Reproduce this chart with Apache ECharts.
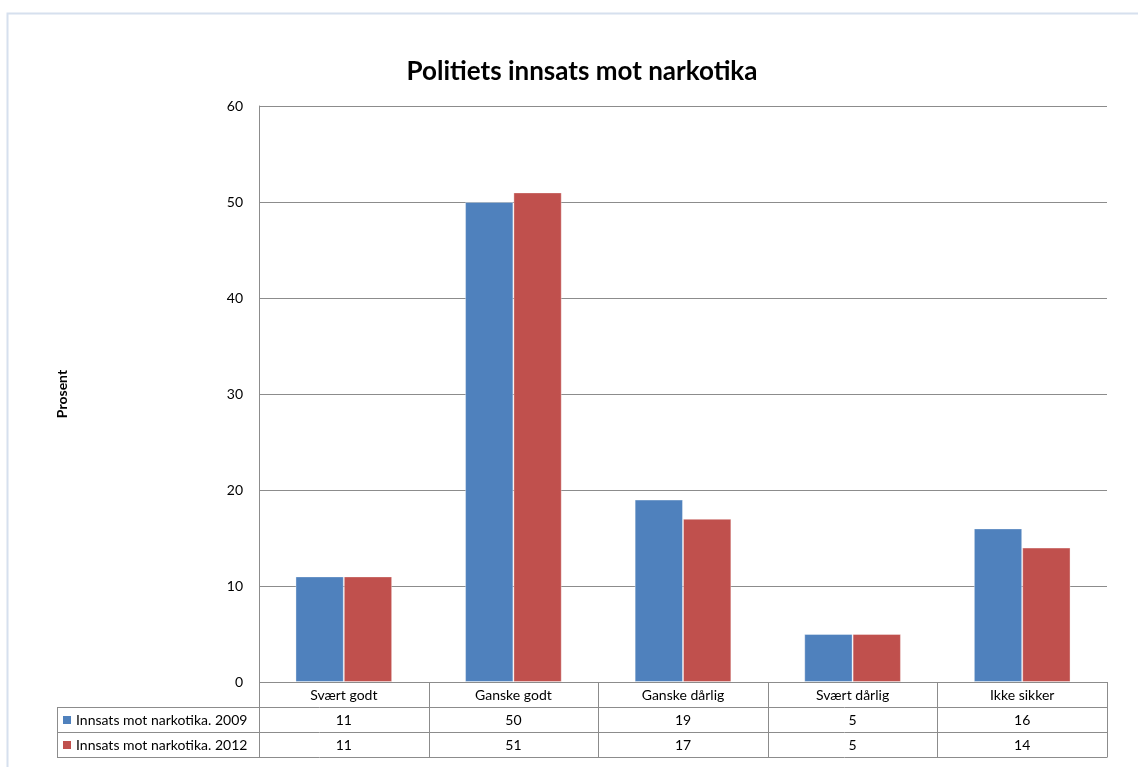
<!DOCTYPE html>
<html><head><meta charset="utf-8">
<script src="https://cdn.jsdelivr.net/npm/echarts@6/dist/echarts.min.js"></script>
<style>html,body{margin:0;padding:0;background:#fff}#c{width:1138px;height:767px}</style>
</head><body><div id="c"></div>
<script>
const categories = ['Svært godt', 'Ganske godt', 'Ganske dårlig', 'Svært dårlig', 'Ikke sikker'];
const seriesNames = ['Innsats mot narkotika. 2009', 'Innsats mot narkotika. 2012'];
const values2009 = [11, 50, 19, 5, 16];
const values2012 = [11, 51, 17, 5, 14];
const seriesColors = ['#4F81BD', '#C0504D'];
const titleText = 'Politiets innsats mot narkotika';
const yAxisName = 'Prosent';

const FONT = 'Lato, "Open Sans", sans-serif';
const GRID = { left: 259, top: 106, right: 31, bottom: 85 };
const ROW_H = 25;
const TABLE_LEFT = 57;
const LINE = '#8c8c8c';

const chart = echarts.init(document.getElementById('c'), null, { renderer: 'canvas' });
const allValues = [values2009, values2012];

chart.setOption({
  animation: false,
  backgroundColor: '#fff',
  title: {
    text: titleText, left: 577, textAlign: 'center', top: 54,
    textStyle: { fontFamily: FONT, fontWeight: 'bold', fontSize: 26, color: '#000' }
  },
  grid: GRID,
  xAxis: {
    type: 'category', data: categories,
    axisLine: { show: false }, axisTick: { show: false }, axisLabel: { show: false }
  },
  yAxis: {
    type: 'value', min: 0, max: 60, interval: 10,
    name: yAxisName, nameLocation: 'middle', nameGap: 190, nameRotate: 90,
    nameTextStyle: { fontFamily: FONT, fontWeight: 'bold', fontSize: 14, color: '#000' },
    axisLine: { show: true, lineStyle: { color: LINE, width: 1 } },
    axisTick: { show: false },
    axisLabel: { fontFamily: FONT, fontSize: 14, color: '#000', margin: 16 },
    splitLine: { lineStyle: { color: LINE, width: 1 } }
  },
  series: allValues.map((vals, i) => ({
    name: seriesNames[i], type: 'bar', data: vals,
    barGap: '0%', barCategoryGap: '43%',
    itemStyle: { color: seriesColors[i], borderColor: 'rgba(255,255,255,0.35)', borderWidth: 1 }
  }))
});

function buildTable() {
  const g = [];
  const yZero = chart.convertToPixel({ gridIndex: 0 }, [0, 0])[1];
  const left = GRID.left;
  const right = 1138 - GRID.right;
  const step = (right - left) / categories.length;
  g.push({ type: 'rect', shape: { x: 7.5, y: 13.5, width: 1200, height: 900 },
    style: { fill: 'none', stroke: '#D6E0EE', lineWidth: 2 }, silent: true, z: 0 });
  const line = (x1, y1, x2, y2) => g.push({ type: 'line', silent: true, z: 10,
    shape: { x1, y1, x2, y2 }, style: { stroke: LINE, lineWidth: 1 } });
  line(left, yZero + 0.5, right, yZero + 0.5);
  for (let r = 1; r <= 3; r++) {
    const y = Math.round(yZero + r * ROW_H) + 0.5;
    line(TABLE_LEFT, y, right, y);
  }
  for (let c = 0; c <= categories.length; c++) {
    const x = Math.round(left + c * step) + 0.5;
    line(x, yZero, x, yZero + 3 * ROW_H + 0.5);
  }
  line(TABLE_LEFT + 0.5, yZero + ROW_H, TABLE_LEFT + 0.5, yZero + 3 * ROW_H + 0.5);
  const txt = (text, x, y, align) => g.push({ type: 'text', silent: true, z: 11,
    style: { text, x, y, align: align || 'center', verticalAlign: 'middle',
      font: '14px ' + FONT, fill: '#000' } });
  categories.forEach((cat, i) => {
    const cx = chart.convertToPixel({ gridIndex: 0 }, [i, 0])[0];
    txt(cat, cx, yZero + ROW_H / 2 + 0.5);
    allValues.forEach((vals, s) => txt(String(vals[i]), cx, yZero + ROW_H * (s + 1.5) + 0.5));
  });
  allValues.forEach((vals, s) => {
    const cy = yZero + ROW_H * (s + 1.5);
    g.push({ type: 'rect', silent: true, z: 11,
      shape: { x: TABLE_LEFT + 6, y: Math.round(cy) - 4, width: 8, height: 8 },
      style: { fill: seriesColors[s] } });
    txt(seriesNames[s], TABLE_LEFT + 19, cy + 0.5, 'left');
  });
  chart.setOption({ graphic: g });
}
buildTable();
</script></body></html>
